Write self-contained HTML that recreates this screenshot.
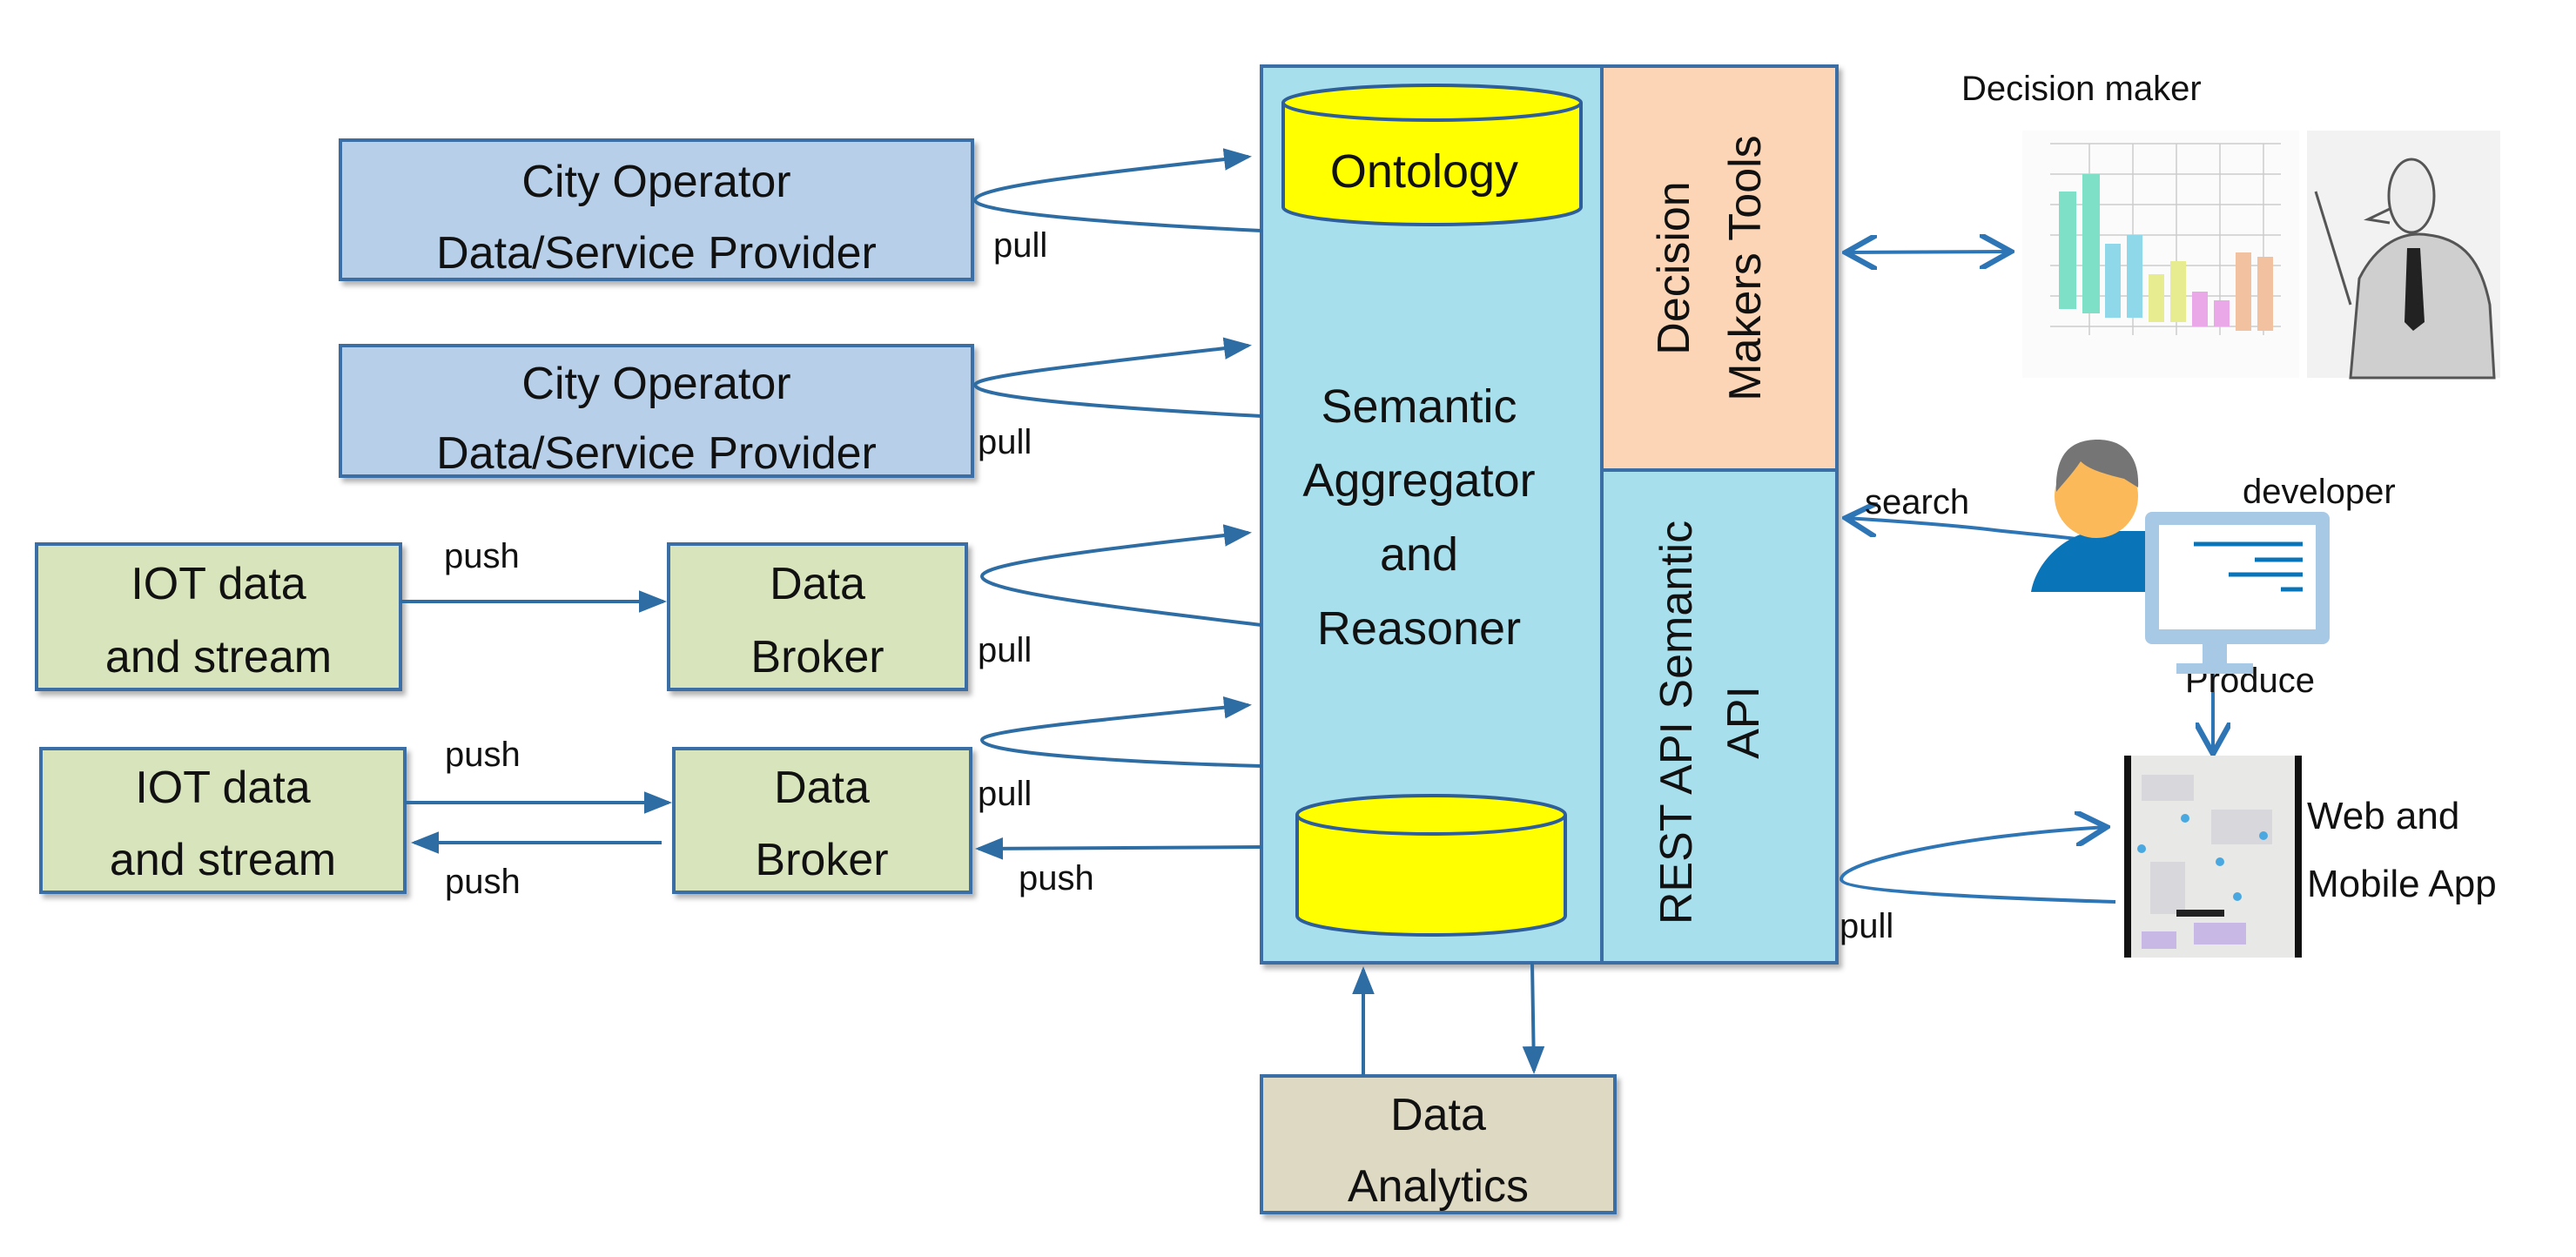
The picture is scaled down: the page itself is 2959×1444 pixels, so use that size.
<!DOCTYPE html>
<html><head><meta charset="utf-8"><style>
html,body{margin:0;padding:0;background:#fff}
svg{display:block}
text{font-family:"Liberation Sans",sans-serif;fill:#111}
</style></head><body>
<svg width="2959" height="1444" viewBox="0 0 2959 1444" xmlns="http://www.w3.org/2000/svg">
<defs>
<marker id="ah" markerWidth="8" markerHeight="8" refX="7" refY="4" orient="auto" markerUnits="strokeWidth">
<path d="M0,0.8 L8,4 L0,7.2 Z" fill="#2e6da4"/></marker>
<marker id="ob" markerWidth="10" markerHeight="10" refX="9" refY="5" orient="auto" markerUnits="strokeWidth">
<path d="M0,0 L9,5 L0,10" fill="none" stroke="#2e75b6" stroke-width="1.6"/></marker>
<marker id="obs" markerWidth="10" markerHeight="10" refX="9" refY="5" orient="auto-start-reverse" markerUnits="strokeWidth">
<path d="M0,0 L9,5 L0,10" fill="none" stroke="#2e75b6" stroke-width="1.6"/></marker>
<filter id="sh" x="-5%" y="-5%" width="110%" height="115%"><feDropShadow dx="4" dy="5" stdDeviation="3" flood-color="#000" flood-opacity="0.3"/></filter>
</defs>

<g stroke="#3a6ea5" stroke-width="4" filter="url(#sh)">
<rect x="391" y="161" width="726" height="160" fill="#b7cfe8"/>
<rect x="391" y="397" width="726" height="150" fill="#b7cfe8"/>
<rect x="42" y="625" width="418" height="167" fill="#d8e4bc"/>
<rect x="768" y="625" width="342" height="167" fill="#d8e4bc"/>
<rect x="47" y="860" width="418" height="165" fill="#d8e4bc"/>
<rect x="774" y="860" width="341" height="165" fill="#d8e4bc"/>
<rect x="1449" y="1236" width="406" height="157" fill="#ddd9c3"/>
</g>
<g font-size="52" text-anchor="middle">
<text x="754" y="226">City Operator</text>
<text x="754" y="308">Data/Service Provider</text>
<text x="754" y="458">City Operator</text>
<text x="754" y="538">Data/Service Provider</text>
<text x="251" y="688">IOT data</text>
<text x="251" y="772">and stream</text>
<text x="939" y="688">Data</text>
<text x="939" y="772">Broker</text>
<text x="256" y="922">IOT data</text>
<text x="256" y="1005">and stream</text>
<text x="944" y="922">Data</text>
<text x="944" y="1005">Broker</text>
<text x="1652" y="1298">Data</text>
<text x="1652" y="1380">Analytics</text>
</g>

<g filter="url(#sh)">
<rect x="1449" y="76" width="661" height="1030" fill="#a8dfec" stroke="#3a6ea5" stroke-width="4"/>
</g>
<rect x="1840" y="76" width="270" height="464" fill="#fbd5b5" stroke="#3a6ea5" stroke-width="4"/>
<line x1="1840" y1="76" x2="1840" y2="1106" stroke="#3a6ea5" stroke-width="4"/>
<line x1="1840" y1="540" x2="2110" y2="540" stroke="#3a6ea5" stroke-width="4"/>

<g stroke="#2e5f9a" stroke-width="4" fill="#ffff00">
<path d="M1474,118 L1474,238 A171,20 0 0 0 1816,238 L1816,118"/>
<ellipse cx="1645" cy="118" rx="171" ry="20"/>
<path d="M1490,936 L1490,1052 A154,22 0 0 0 1798,1052 L1798,936"/>
<ellipse cx="1644" cy="936" rx="154" ry="22"/>
</g>
<text x="1636" y="215" font-size="54" text-anchor="middle">Ontology</text>

<g font-size="54" text-anchor="middle">
<text x="1630" y="485">Semantic</text>
<text x="1630" y="570">Aggregator</text>
<text x="1630" y="655">and</text>
<text x="1630" y="740">Reasoner</text>
</g>
<g font-size="52" text-anchor="middle">
<text transform="translate(1940,308) rotate(-90)">Decision</text>
<text transform="translate(2022,308) rotate(-90)">Makers Tools</text>
<text transform="translate(1943,830) rotate(-90)">REST API Semantic</text>
<text transform="translate(2020,830) rotate(-90)">API</text>
</g>

<g fill="none" stroke="#2e6da4" stroke-width="4">
<path d="M1449,265 C1300,258 1120,245 1120,230 C1120,215 1250,200 1434,180" marker-end="url(#ah)"/>
<path d="M1449,478 C1300,470 1120,458 1120,442 C1120,432 1250,418 1434,397" marker-end="url(#ah)"/>
<path d="M1449,718 C1300,700 1128,680 1128,662 C1128,648 1250,632 1434,612" marker-end="url(#ah)"/>
<path d="M1449,880 C1300,876 1128,866 1128,850 C1128,840 1250,828 1434,810" marker-end="url(#ah)"/>
<line x1="1449" y1="973" x2="1124" y2="975" marker-end="url(#ah)"/>
<line x1="460" y1="691" x2="762" y2="691" marker-end="url(#ah)"/>
<line x1="465" y1="922" x2="768" y2="922" marker-end="url(#ah)"/>
<line x1="760" y1="968" x2="476" y2="968" marker-end="url(#ah)"/>
<line x1="1566" y1="1236" x2="1566" y2="1114" marker-end="url(#ah)"/>
<line x1="1760" y1="1106" x2="1762" y2="1230" marker-end="url(#ah)"/>
</g>
<g fill="none" stroke="#2e75b6" stroke-width="4">
<line x1="2120" y1="290" x2="2310" y2="289" marker-start="url(#obs)" marker-end="url(#ob)"/>
<path d="M2120,595 C2200,600 2260,605 2300,610 C2350,615 2400,620 2425,624" marker-start="url(#obs)" marker-end="url(#ob)"/>
<line x1="2542" y1="752" x2="2542" y2="866" marker-end="url(#ob)"/>
<path d="M2430,1036 C2300,1032 2115,1025 2115,1010 C2115,990 2250,960 2420,950" marker-end="url(#ob)"/>
</g>

<g font-size="40">
<text x="1141" y="295">pull</text>
<text x="1123" y="521">pull</text>
<text x="1123" y="760">pull</text>
<text x="1123" y="925">pull</text>
<text x="1170" y="1022">push</text>
<text x="510" y="652">push</text>
<text x="511" y="880">push</text>
<text x="511" y="1026">push</text>
<text x="2113" y="1077">pull</text>
<text x="2142" y="590">search</text>
<text x="2576" y="578">developer</text>
<text x="2510" y="795">Produce</text>
<text x="2253" y="115">Decision maker</text>
</g>
<g font-size="44">
<text x="2650" y="952">Web and</text>
<text x="2650" y="1030">Mobile App</text>
</g>

<g>
<rect x="2323" y="150" width="318" height="284" fill="#fbfbfb"/>
<g stroke="#ccc" stroke-width="1.5">
<line x1="2355" y1="165" x2="2620" y2="165"/><line x1="2355" y1="200" x2="2620" y2="200"/>
<line x1="2355" y1="235" x2="2620" y2="235"/><line x1="2355" y1="270" x2="2620" y2="270"/>
<line x1="2355" y1="305" x2="2620" y2="305"/><line x1="2355" y1="340" x2="2620" y2="340"/>
<line x1="2355" y1="375" x2="2620" y2="375"/>
<line x1="2400" y1="165" x2="2400" y2="385"/><line x1="2450" y1="165" x2="2450" y2="385"/>
<line x1="2500" y1="165" x2="2500" y2="385"/><line x1="2550" y1="165" x2="2550" y2="385"/>
<line x1="2600" y1="165" x2="2600" y2="385"/>
</g>
<rect x="2365" y="220" width="20" height="135" fill="#7fe0c8"/>
<rect x="2392" y="200" width="20" height="160" fill="#7fe0c8"/>
<rect x="2418" y="280" width="18" height="85" fill="#8fd8ea"/>
<rect x="2443" y="270" width="18" height="95" fill="#8fd8ea"/>
<rect x="2468" y="315" width="18" height="55" fill="#e8ec90"/>
<rect x="2493" y="300" width="18" height="70" fill="#e8ec90"/>
<rect x="2518" y="335" width="18" height="40" fill="#eaa8e8"/>
<rect x="2543" y="345" width="18" height="30" fill="#eaa8e8"/>
<rect x="2568" y="290" width="18" height="90" fill="#f2c2a0"/>
<rect x="2593" y="295" width="18" height="85" fill="#f2c2a0"/>
<rect x="2650" y="150" width="222" height="284" fill="#f2f2f2"/>
<g stroke="#555" stroke-width="3" fill="#cfcfcf">
<path d="M2700,434 L2710,320 C2730,280 2760,265 2790,270 C2830,275 2850,300 2860,350 L2865,434 Z"/>
<ellipse cx="2770" cy="225" rx="26" ry="42" fill="#ececec"/>
<path d="M2745,240 L2720,252 L2745,256" fill="none"/>
<line x1="2660" y1="220" x2="2700" y2="350"/>
</g>
<path d="M2765,285 L2780,285 L2785,370 L2772,380 L2762,370 Z" fill="#222"/>
</g>

<g>
<path d="M2333,680 C2340,640 2380,610 2410,610 L2480,610 L2480,680 Z" fill="#0a74b8"/>
<ellipse cx="2408" cy="570" rx="48" ry="48" fill="#fbb95a"/>
<path d="M2362,565 C2360,520 2380,505 2410,505 C2440,505 2458,525 2456,560 L2440,550 C2420,545 2400,540 2390,530 C2380,545 2370,555 2362,565 Z" fill="#757575"/>
<rect x="2464" y="588" width="212" height="152" rx="8" fill="#a8c9e6"/>
<rect x="2480" y="603" width="180" height="120" fill="#fff"/>
<rect x="2530" y="740" width="28" height="28" fill="#a8c9e6"/>
<rect x="2500" y="762" width="88" height="12" fill="#a8c9e6"/>
<g stroke="#0a74b8" stroke-width="5">
<line x1="2520" y1="625" x2="2645" y2="625"/><line x1="2590" y1="643" x2="2645" y2="643"/>
<line x1="2560" y1="660" x2="2645" y2="660"/><line x1="2620" y1="677" x2="2645" y2="677"/>
</g>
</g>

<g>
<rect x="2444" y="868" width="196" height="232" fill="#e8e8e6"/>
<g fill="#d8d8dc"><rect x="2460" y="890" width="60" height="30"/><rect x="2540" y="930" width="70" height="40"/><rect x="2470" y="990" width="40" height="60"/></g>
<g fill="#c8b8e6"><rect x="2520" y="1060" width="60" height="25"/><rect x="2460" y="1070" width="40" height="20"/></g>
<g fill="#4aa8e0"><circle cx="2510" cy="940" r="5"/><circle cx="2460" cy="975" r="5"/><circle cx="2550" cy="990" r="5"/><circle cx="2570" cy="1030" r="5"/><circle cx="2600" cy="960" r="5"/></g>
<rect x="2500" y="1045" width="55" height="8" fill="#222"/>
<rect x="2440" y="868" width="8" height="232" fill="#111"/>
<rect x="2636" y="868" width="8" height="232" fill="#111"/>
</g>
</svg>
</body></html>
